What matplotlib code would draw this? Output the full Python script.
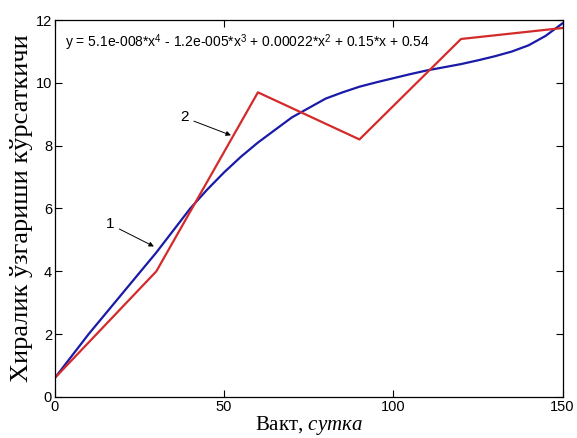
import matplotlib
matplotlib.use("Agg")
import matplotlib.pyplot as plt

# Data
days_red = [0, 30, 60, 90, 120, 150]
value_red = [0.6, 4.0, 9.7, 8.2, 11.4, 11.75]

days_blue = [0, 5, 10, 15, 20, 25, 30, 35, 40, 45, 50, 55, 60, 65, 70, 75,
             80, 85, 90, 95, 100, 105, 110, 115, 120, 125, 130, 135, 140, 145, 150]
value_blue = [0.6, 1.3, 2.0, 2.65, 3.3, 3.95, 4.6, 5.3, 6.0, 6.6, 7.15, 7.65,
              8.1, 8.5, 8.9, 9.2, 9.5, 9.7, 9.88, 10.02, 10.15, 10.28, 10.4,
              10.5, 10.6, 10.72, 10.85, 11.0, 11.2, 11.5, 11.9]

xticks = [0, 50, 100, 150]
yticks = [0, 2, 4, 6, 8, 10, 12]

SANS = ["Liberation Sans", "DejaVu Sans"]
SERIF = ["Liberation Serif", "DejaVu Serif"]

plt.rcParams.update({
    "mathtext.fontset": "custom",
    "mathtext.rm": "Liberation Sans",
    "mathtext.it": "Liberation Serif:italic",
    "xtick.direction": "in",
    "ytick.direction": "in",
    "xtick.top": True,
    "ytick.right": True,
    "xtick.major.size": 5,
    "ytick.major.size": 5,
    "axes.linewidth": 0.9,
})

fig = plt.figure(figsize=(5.77, 4.38), dpi=100)
ax = fig.add_axes([0.095, 0.094, 0.88, 0.86])

ax.plot(days_blue, value_blue, color="#1a1aa8", lw=1.6)
ax.plot(days_red, value_red, color="#d42a2a", lw=1.6)

ax.set_xlim(0, 150)
ax.set_ylim(0, 12)
ax.set_xticks(xticks)
ax.set_yticks(yticks)
for lab in ax.get_xticklabels() + ax.get_yticklabels():
    lab.set_family(SANS)
    lab.set_fontsize(10.5)
ax.tick_params(pad=2)

ax.text(3, 11.3, "y = 5.1e-008*x$^4$ - 1.2e-005*x$^3$ + 0.00022*x$^2$ + 0.15*x + 0.54",
        family=SANS, fontsize=10, va="center")

ax.annotate("1", xy=(30, 4.75), xytext=(17.5, 5.5), family=SANS, fontsize=11,
            ha="right", va="center",
            arrowprops=dict(arrowstyle="-|>", color="black", lw=0.7, mutation_scale=7))
ax.annotate("2", xy=(52.8, 8.3), xytext=(39.5, 8.9), family=SANS, fontsize=11,
            ha="right", va="center",
            arrowprops=dict(arrowstyle="-|>", color="black", lw=0.7, mutation_scale=7))

ax.set_xlabel("Вакт, $\\mathit{сутка}$", family=SERIF, fontsize=15, labelpad=0)
ax.set_ylabel("Хиралик ўзгариши кўрсаткичи", family=SERIF, fontsize=19, labelpad=2)

fig.savefig("out.png", dpi=100)
